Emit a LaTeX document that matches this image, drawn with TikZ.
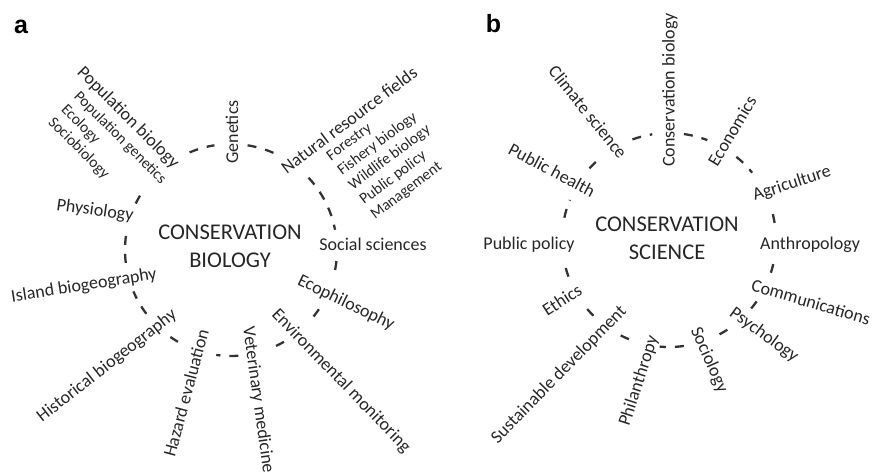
\documentclass[tikz,border=0pt]{standalone}
\usepackage{fontspec}
\setmainfont{Carlito}
\newfontfamily\tagfont{Liberation Sans}
\usepackage{tikz}

\begin{document}
\begin{tikzpicture}[x=1pt, y=-1pt,
    field/.style={font=\fontsize{18}{21}\selectfont, text=black!85, inner sep=1pt},
    subfield/.style={font=\fontsize{15.5}{18.3}\selectfont, text=black!85, align=left, inner sep=1pt},
    core/.style={font=\fontsize{22.5}{28}\selectfont, text=black!85, align=center, inner sep=0pt},
    tag/.style={font=\tagfont\bfseries\fontsize{25}{25}\selectfont, inner sep=0pt},
    ring/.style={line width=2.3pt, dash pattern=on 9pt off 9pt, black!80}]
\useasboundingbox (0,0) rectangle (872,473);

% panel a
\coordinate (ca) at (231,250);
\node [tag] (taga) at (21,26.5) {a};
\node [core] (cbio) at (230,246.5) {CONSERVATION\\BIOLOGY};
\foreach \s/\e in {-113/-99, -81/-62, -43/-11, 6/15, 34/43, 60/66, 86/98, 120/127, 143/157, 173/189, 206/214}
    \draw [ring] (ca) ++(\s:106) arc [start angle=\s, end angle=\e, radius=106];
\node [field, rotate=-45] (popbio) at (128,118) {Population biology};
\node [subfield, rotate=-45] (popsub) at (107,151) {Population genetics\\Ecology\\Sociobiology};
\node [field, rotate=90] (gen) at (232,132) {Genetics};
\node [field, rotate=37] (natres) at (349,120) {Natural resource fields};
\node [subfield, rotate=37] (natsub) at (390,158) {Forestry\\Fishery biology\\Wildlife biology\\Public policy\\Management};
\node [field, rotate=-8] (phys) at (95,211) {Physiology};
\node [field] (socsci) at (373,244) {Social sciences};
\node [field, rotate=9] (isl) at (84,286) {Island biogeography};
\node [field, rotate=-26] (ecoph) at (346,303) {Ecophilosophy};
\node [field, rotate=38] (hist) at (107,366) {Historical biogeography};
\node [field, rotate=75] (haz) at (186,393) {Hazard evaluation};
\node [field, rotate=-82] (vet) at (258,400) {Veterinary medicine};
\node [field, rotate=-46] (envmon) at (341,381) {Environmental monitoring};

% panel b
\coordinate (cb) at (669,240);
\node [tag] (tagb) at (493.5,24) {b};
\node [core] (csci) at (667,238.5) {CONSERVATION\\SCIENCE};
\foreach \s/\e in {-110/-99, -82/-69, -51/-39, -14/-8, 13/20, 35/40, 57/64, 82/95, 112/118, 135/144, 160/166, 192/202, 222/231}
    \draw [ring] (cb) ++(\s:107) arc [start angle=\s, end angle=\e, radius=107];
\node [field, rotate=90] (consbio) at (670,90) {Conservation biology};
\node [field, rotate=-51] (climate) at (588,112) {Climate science};
\node [field, rotate=59] (econ) at (732,131) {Economics};
\node [field, rotate=-28] (pubhealth) at (552,170) {Public health};
\node [field, rotate=18] (agri) at (792,184) {Agriculture};
\node [field] (pubpol) at (529,245) {Public policy};
\node [field] (anthro) at (810,245) {Anthropology};
\node [field, rotate=33] (ethics) at (562,300) {Ethics};
\node [field, rotate=-16.5] (comm) at (811,302) {Communications};
\node [field, rotate=45.6] (sustdev) at (559,375) {Sustainable development};
\node [field, rotate=-36] (psych) at (764,335) {Psychology};
\node [field, rotate=72] (philan) at (639,381) {Philanthropy};
\node [field, rotate=-66] (sociol) at (709,360) {Sociology};
\end{tikzpicture}
\end{document}
